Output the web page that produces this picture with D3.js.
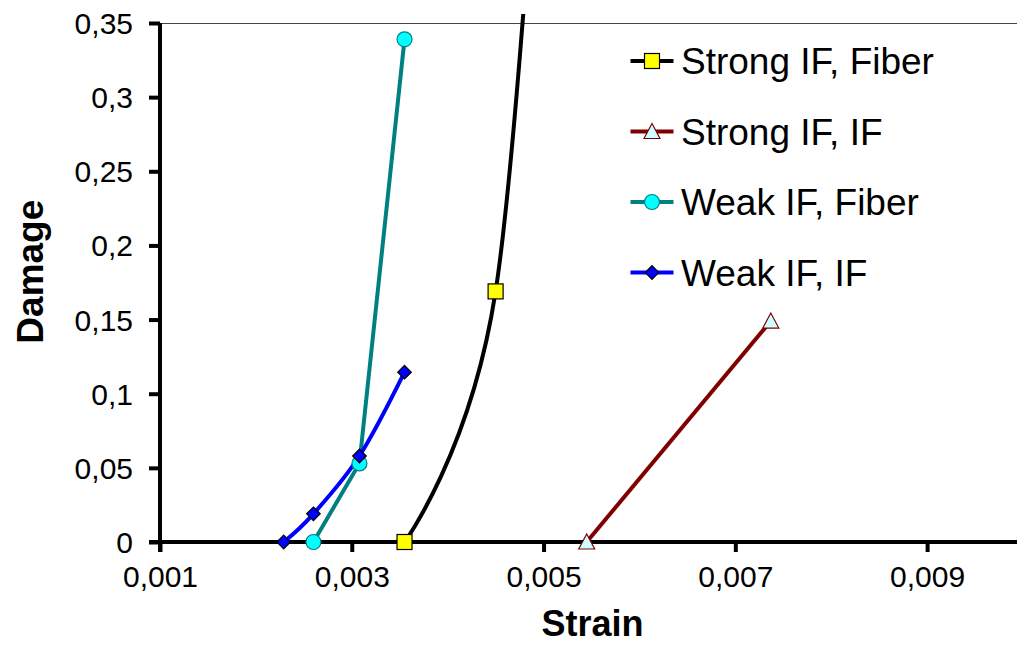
<!DOCTYPE html>
<html><head><meta charset="utf-8">
<script src="https://cdn.jsdelivr.net/npm/d3@7"></script>
<style>
html,body{margin:0;padding:0;background:#fff;}
svg{display:block;font-family:"Liberation Sans",Arial,sans-serif;}
</style></head>
<body>
<svg id="chart" width="1017" height="645"></svg>
<script>
// ---- data ----
const xTicks = [0.001, 0.003, 0.005, 0.007, 0.009];
const yTicks = [0, 0.05, 0.1, 0.15, 0.2, 0.25, 0.3, 0.35];
const seriesNames = ["Strong IF, Fiber", "Strong IF, IF", "Weak IF, Fiber", "Weak IF, IF"];
const strongFiberStrain = [0.00355, 0.00450, 0.00510];
const strongFiberDamage = [0, 0.169, 0.65];
const strongIFStrain = [0.00545, 0.00737];
const strongIFDamage = [0, 0.149];
const weakFiberStrain = [0.00260, 0.00308, 0.00355];
const weakFiberDamage = [0, 0.053, 0.339];
const weakIFStrain = [0.00229, 0.00260, 0.00308, 0.00355];
const weakIFDamage = [0, 0.019, 0.058, 0.1145];

const svg = d3.select("#chart");
const x = d3.scaleLinear().domain([0.001, 0.01]).range([160, 1023]);
const y = d3.scaleLinear().domain([0, 0.35]).range([542, 23]);
const fmt = d => d3.format("")(+d.toFixed(4)).replace(".", ",");

const styles = [
  {line:"#000000", marker:"square", fill:"#ffff00", stroke:"#000000", curve:d3.curveCardinal.tension(0)},
  {line:"#800000", marker:"triangle", fill:"#ccffff", stroke:"#800000", curve:d3.curveLinear},
  {line:"#008080", marker:"circle", fill:"#00ffff", stroke:"#008080", curve:d3.curveLinear},
  {line:"#0000ff", marker:"diamond", fill:"#0000ff", stroke:"#000000", curve:d3.curveCardinal.tension(0)}
];
const series = [
  d3.zip(strongFiberStrain, strongFiberDamage),
  d3.zip(strongIFStrain, strongIFDamage),
  d3.zip(weakFiberStrain, weakFiberDamage),
  d3.zip(weakIFStrain, weakIFDamage)
];

// top border
svg.append("line").attr("x1", 160).attr("x2", 1023).attr("y1", 23.5).attr("y2", 23.5)
  .attr("stroke", "#444").attr("stroke-width", 1.2);

svg.append("defs").append("clipPath").attr("id", "clip")
  .append("rect").attr("x", 158).attr("y", 14).attr("width", 900).attr("height", 560);

// axes
const xAxis = svg.append("g").attr("transform", "translate(0,542)")
  .call(d3.axisBottom(x).tickValues(xTicks).tickSize(10).tickSizeOuter(0).tickPadding(14).tickFormat(fmt));
const yAxis = svg.append("g").attr("transform", "translate(160,0)")
  .call(d3.axisLeft(y).tickValues(yTicks).tickSize(11).tickSizeOuter(0).tickPadding(16).tickFormat(fmt));
[xAxis, yAxis].forEach(a => {
  a.select(".domain").attr("stroke", "#000").attr("stroke-width", 4);
  a.selectAll(".tick line").attr("stroke", "#000").attr("stroke-width", 4);
  a.selectAll(".tick text").attr("fill", "#000").attr("font-size", 30)
    .attr("font-family", "Liberation Sans, Arial, sans-serif");
});
xAxis.select(".domain").attr("d", "M149,0H1023");
yAxis.select(".domain").attr("d", "M0,23V552");
yAxis.selectAll(".tick text").attr("dy", "0.35em");

// axis titles
svg.append("text").attr("x", 592.5).attr("y", 636).attr("text-anchor", "middle")
  .attr("font-size", 36).attr("font-weight", "bold").text("Strain");
svg.append("text").attr("transform", "translate(42.5,271.7) rotate(-90)").attr("text-anchor", "middle")
  .attr("font-size", 37).attr("font-weight", "bold").text("Damage");

function drawMarker(g, type, cx, cy, fill, stroke) {
  if (type === "square") {
    g.append("rect").attr("x", cx - 7.5).attr("y", cy - 7.5).attr("width", 15).attr("height", 15)
      .attr("fill", fill).attr("stroke", stroke).attr("stroke-width", 1.2);
  } else if (type === "circle") {
    g.append("circle").attr("cx", cx).attr("cy", cy).attr("r", 7.5)
      .attr("fill", fill).attr("stroke", stroke).attr("stroke-width", 1.2);
  } else if (type === "diamond") {
    g.append("path").attr("d", `M${cx},${cy-6.8}L${cx+6.8},${cy}L${cx},${cy+6.8}L${cx-6.8},${cy}Z`)
      .attr("fill", fill).attr("stroke", stroke).attr("stroke-width", 1.2);
  } else if (type === "triangle") {
    g.append("path").attr("d", `M${cx},${cy-8}L${cx+8},${cy+7}L${cx-8},${cy+7}Z`)
      .attr("fill", fill).attr("stroke", stroke).attr("stroke-width", 1.2);
  }
}

// series
const plot = svg.append("g").attr("clip-path", "url(#clip)");
series.forEach((pts, i) => {
  const st = styles[i];
  plot.append("path").datum(pts)
    .attr("d", d3.line().x(d => x(d[0])).y(d => y(d[1])).curve(st.curve))
    .attr("fill", "none").attr("stroke", st.line).attr("stroke-width", 4);
});
series.forEach((pts, i) => {
  const st = styles[i];
  const g = plot.append("g");
  pts.filter(d => d[1] <= 0.35).forEach(d => drawMarker(g, st.marker, x(d[0]), y(d[1]), st.fill, st.stroke));
});

// legend
const legend = svg.append("g");
seriesNames.forEach((name, i) => {
  const st = styles[i];
  const cy = 61 + i * 70.5;
  legend.append("line").attr("x1", 630.5).attr("x2", 673.5).attr("y1", cy).attr("y2", cy)
    .attr("stroke", st.line).attr("stroke-width", 4);
  drawMarker(legend, st.marker, 652, cy, st.fill, st.stroke);
  legend.append("text").attr("x", 681).attr("y", cy + 13).attr("font-size", 37)
    .attr("fill", "#000").text(name);
});
</script>
</body></html>
